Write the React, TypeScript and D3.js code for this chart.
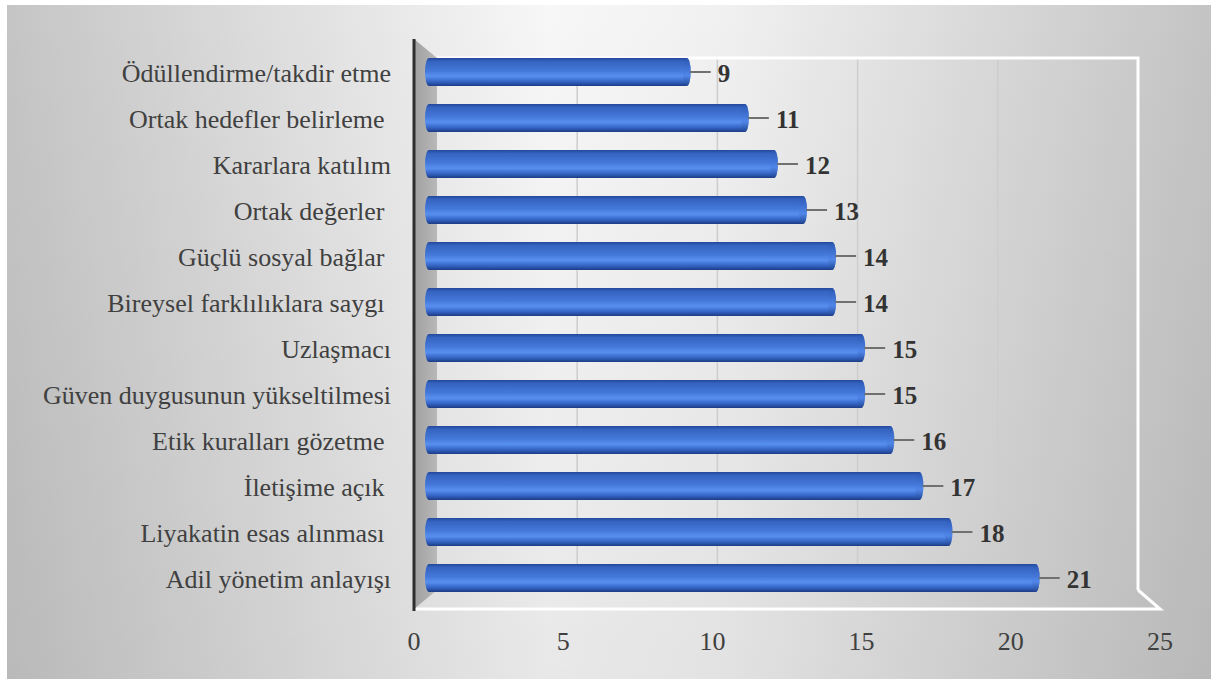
import React from "react";
import * as d3 from "d3";

const categories = [
  "Ödüllendirme/takdir etme",
  "Ortak hedefler belirleme ",
  "Kararlara katılım",
  "Ortak değerler ",
  "Güçlü sosyal bağlar ",
  "Bireysel farklılıklara saygı ",
  "Uzlaşmacı",
  "Güven duygusunun yükseltilmesi",
  "Etik kuralları gözetme ",
  "İletişime açık ",
  "Liyakatin esas alınması ",
  "Adil yönetim anlayışı",
];
const values = [9, 11, 12, 13, 14, 14, 15, 15, 16, 17, 18, 21];
const ticks = [0, 5, 10, 15, 20, 25];

const W = 1211;
const H = 679;

export default function App() {
  // three depths of the same value axis: front edge, bar plane, back wall
  const xFront = d3.scaleLinear().domain([0, 25]).range([414, 1160]);
  const xBar = d3.scaleLinear().domain([0, 25]).range([425, 1152]);
  const xBack = d3.scaleLinear().domain([0, 25]).range([437, 1138]);
  const y = d3
    .scaleBand<string>()
    .domain(categories)
    .range([49, 601])
    .paddingInner(0.39)
    .paddingOuter(0.195);

  const wallTop = 39;
  const backTop = 58;
  const backBottom = 590;
  const frontBottom = 609;
  const bh = y.bandwidth();
  const serif = "'Liberation Serif', 'Times New Roman', serif";

  return (
    <svg
      width={W}
      height={H}
      style={{ position: "absolute", left: 0, top: 0, display: "block" }}
    >
      <defs>
        <linearGradient id="bg" x1="0" y1="0" x2="1" y2="0">
          <stop offset="0" stopColor="#c5c5c5" />
          <stop offset="0.45" stopColor="#f7f7f7" />
          <stop offset="0.6" stopColor="#f0f0f0" />
          <stop offset="1" stopColor="#c4c4c4" />
        </linearGradient>
        <linearGradient id="bgShade" x1="0" y1="0" x2="0" y2="1">
          <stop offset="0" stopColor="#000" stopOpacity="0" />
          <stop offset="1" stopColor="#000" stopOpacity="0.06" />
        </linearGradient>
        <linearGradient id="bar" x1="0" y1="0" x2="0" y2="1">
          <stop offset="0" stopColor="#23479a" />
          <stop offset="0.12" stopColor="#3563c0" />
          <stop offset="0.45" stopColor="#4478d8" />
          <stop offset="0.65" stopColor="#5890f0" />
          <stop offset="0.85" stopColor="#3362c2" />
          <stop offset="1" stopColor="#1c3c84" />
        </linearGradient>
        <linearGradient id="cap" x1="0" y1="0" x2="0" y2="1">
          <stop offset="0" stopColor="#2a55b0" />
          <stop offset="0.6" stopColor="#4c82e6" />
          <stop offset="1" stopColor="#22468e" />
        </linearGradient>
        <linearGradient id="wall" x1="0" y1="0" x2="1" y2="0">
          <stop offset="0" stopColor="#a0a0a0" />
          <stop offset="1" stopColor="#b8b8b8" />
        </linearGradient>
      </defs>

      <rect x={0} y={0} width={W} height={H} fill="#ffffff" />
      <rect x={7} y={5} width={W - 7} height={H - 5} fill="url(#bg)" />
      <rect x={7} y={5} width={W - 7} height={H - 5} fill="url(#bgShade)" />

      {/* back wall gridlines */}
      {ticks.slice(1, -1).map((t) => (
        <line
          key={"g" + t}
          x1={xBack(t)}
          x2={xBack(t)}
          y1={backTop}
          y2={backBottom}
          stroke="#cdcdcd"
          strokeWidth={1.5}
        />
      ))}

      {/* back wall outline */}
      <polyline
        points={`${xBack(0)},${backTop} ${xBack(25)},${backTop} ${xBack(25)},${backBottom}`}
        fill="none"
        stroke="#ffffff"
        strokeWidth={3}
      />

      {/* floor edges */}
      <polyline
        points={`${xFront(0)},${frontBottom} ${xFront(25)},${frontBottom} ${xBack(25)},${backBottom}`}
        fill="none"
        stroke="#ffffff"
        strokeWidth={3}
      />

      {/* side wall */}
      <polygon
        points={`${xFront(0)},${wallTop} ${xBack(0)},${backTop} ${xBack(0)},${backBottom} ${xFront(0)},${frontBottom}`}
        fill="url(#wall)"
      />
      <line
        x1={xFront(0)}
        x2={xFront(0)}
        y1={wallTop}
        y2={frontBottom + 2}
        stroke="#2e2e2e"
        strokeWidth={3}
      />

      {/* bars */}
      {categories.map((c, i) => {
        const y0 = y(c)!;
        const x0 = xBar(0);
        const x1 = xBar(values[i]);
        const r = bh / 2;
        const erx = 4;
        const d = `M${x0 + erx},${y0} L${x1},${y0} A${erx},${r} 0 0 1 ${x1},${y0 + bh} L${x0 + erx},${y0 + bh} A${erx},${r} 0 0 1 ${x0 + erx},${y0} Z`;
        return (
          <g key={c}>
            <path d={d} fill="url(#bar)" />
            <ellipse cx={x1} cy={y0 + r} rx={erx} ry={r} fill="url(#cap)" opacity={0.6} />
          </g>
        );
      })}

      {/* leader lines and value labels */}
      {categories.map((c, i) => {
        const cy = y(c)! + bh / 2;
        const x1 = xBar(values[i]);
        return (
          <g key={"l" + c}>
            <line
              x1={x1 + 3}
              x2={x1 + 24}
              y1={cy}
              y2={cy}
              stroke="#707070"
              strokeWidth={2}
            />
            <text
              x={x1 + 31}
              y={cy}
              dy="0.38em"
              fontFamily={serif}
              fontWeight="bold"
              fontSize={25}
              fill="#333333"
            >
              {values[i]}
            </text>
          </g>
        );
      })}

      {/* category labels */}
      {categories.map((c) => (
        <text
          key={"c" + c}
          x={391}
          y={y(c)! + bh / 2}
          dy="0.38em"
          textAnchor="end"
          fontFamily={serif}
          fontSize={26}
          fill="#404040"
          style={{ whiteSpace: "pre" }}
        >
          {c}
        </text>
      ))}

      {/* value axis tick labels */}
      {ticks.map((t) => (
        <text
          key={"t" + t}
          x={xFront(t)}
          y={640}
          dy="0.38em"
          textAnchor="middle"
          fontFamily={serif}
          fontSize={26}
          fill="#404040"
        >
          {t}
        </text>
      ))}
    </svg>
  );
}
